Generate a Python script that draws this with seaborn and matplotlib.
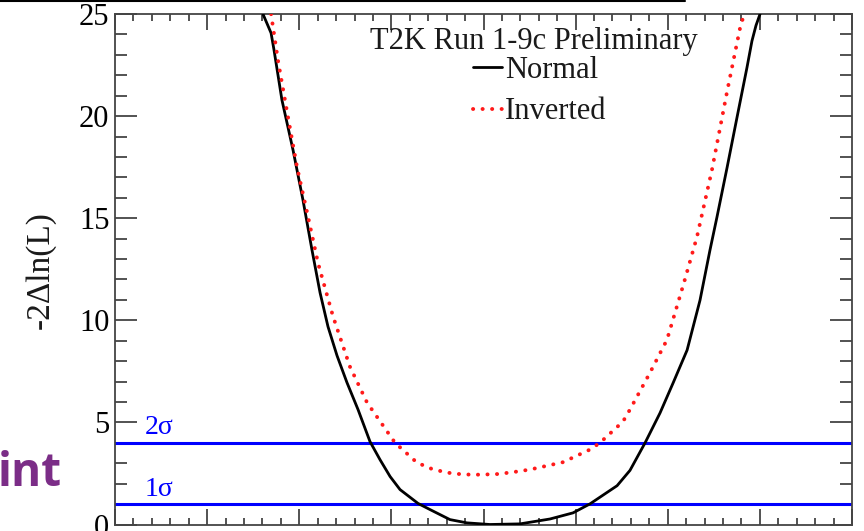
import numpy as np
import pandas as pd
import matplotlib
matplotlib.use("Agg")
import matplotlib.pyplot as plt
from matplotlib.lines import Line2D
from matplotlib.ticker import MultipleLocator
import seaborn as sns

# ---- data ----
normal_x = [0.3803, 0.3847, 0.3863, 0.3906, 0.3966, 0.4020, 0.4069, 0.4113, 0.4156, 0.4205,
            0.4259, 0.4319, 0.4384, 0.4438, 0.4493, 0.4547, 0.4645, 0.4710, 0.4818,
            0.4910, 0.5035, 0.5198, 0.5361, 0.5486, 0.5578, 0.5725, 0.5795, 0.5877,
            0.5958, 0.6029, 0.6105, 0.6175, 0.6229, 0.6267, 0.6322, 0.6376, 0.6430,
            0.6457, 0.6479, 0.6501]
normal_y = [25.0, 24.07, 23.24, 20.79, 18.35, 15.90, 13.45, 11.35, 9.69, 8.27,
            6.95, 5.63, 4.06, 3.18, 2.35, 1.71, 1.03, 0.73, 0.24,
            0.08, 0.0, 0.03, 0.27, 0.57, 1.01, 1.90, 2.65, 4.0,
            5.46, 6.93, 8.54, 10.98, 13.43, 15.05, 17.48, 19.94, 22.38,
            23.68, 24.44, 25.0]

inverted_x = [0.3847, 0.3885, 0.3934, 0.3988, 0.4047, 0.4102, 0.4183, 0.4275, 0.4368,
              0.4520, 0.4639, 0.4720, 0.4802, 0.4889, 0.4980, 0.5073, 0.5150, 0.5252,
              0.5431, 0.5578, 0.5632, 0.5757, 0.5795, 0.5904, 0.5996, 0.6088, 0.6159,
              0.6240, 0.6322, 0.6398, 0.6419]
inverted_y = [25.0, 22.7, 20.2, 17.5, 15.1, 12.8, 10.2, 7.73, 5.97,
              4.0, 3.03, 2.72, 2.54, 2.45, 2.44, 2.47, 2.55, 2.69,
              3.05, 3.67, 4.0, 5.04, 5.63, 7.44, 9.05, 11.84, 14.1,
              17.37, 21.2, 24.56, 25.0]

sigma_levels = [1.0, 4.0]
sigma_labels = ["1σ", "2σ"]
series_labels = ["Normal", "Inverted"]
title_text = "T2K Run 1-9c Preliminary"
ylabel_text = "-2Δln(L)"
slide_text = "int"

df_n = pd.DataFrame({"x": normal_x, "y": normal_y})
df_i = pd.DataFrame({"x": inverted_x, "y": inverted_y})

sns.set_theme(style="white")
plt.rcParams["font.family"] = ["Liberation Serif", "DejaVu Serif"]

fig = plt.figure(figsize=(8.64, 5.31), dpi=100)
ax = fig.add_axes([115 / 864, 1 - 524.5 / 531, 737 / 864, 510.5 / 531])

axis_col = "#444444"
for sp in ax.spines.values():
    sp.set_color(axis_col)
    sp.set_linewidth(1.3)

# sigma lines
for lvl, lab in zip(sigma_levels, sigma_labels):
    ax.axhline(lvl, color="#0000ff", lw=2.2, zorder=2)
    ax.text(0.3 + 0.016, lvl + 0.12, lab, color="#0000ff", fontsize=20,
            ha="left", va="bottom")

sns.lineplot(data=df_n, x="x", y="y", ax=ax, color="black", lw=2.0,
             sort=False, label=series_labels[0], zorder=3)
sns.lineplot(data=df_i, x="x", y="y", ax=ax, color="#ff1a1a", lw=2.8,
             sort=False, label=series_labels[1], zorder=3,
             linestyle=(0, (0.05, 2.4)), dash_capstyle="round")

ax.set_xlim(0.3, 0.7)
ax.set_ylim(0, 25)
ax.xaxis.set_major_locator(MultipleLocator(0.05))
ax.xaxis.set_minor_locator(MultipleLocator(0.01))
ax.yaxis.set_major_locator(MultipleLocator(5))
ax.yaxis.set_minor_locator(MultipleLocator(1))
ax.tick_params(axis="both", which="both", direction="in", colors=axis_col,
               top=True, right=True, bottom=True, left=True, width=1.3)
ax.tick_params(axis="y", which="major", length=16, labelsize=22, labelcolor="black", pad=4)
ax.tick_params(axis="y", which="minor", length=8.5)
ax.tick_params(axis="x", which="major", length=11.5, labelbottom=False)
ax.tick_params(axis="x", which="minor", length=5)
ax.set_xlabel("")
ax.set_ylabel("")

leg = ax.legend(loc="upper left", bbox_to_anchor=((473 - 115) / 737, (524.5 - 56) / 510.5),
                frameon=False, fontsize=22, handlelength=0.95, handletextpad=0.1,
                borderpad=0, borderaxespad=0, labelspacing=0.4)
for t in leg.get_texts():
    t.set_color("#1a1a1a")

ax.text((370 - 115) / 737, (524.5 - 41) / 510.5, title_text, transform=ax.transAxes,
        fontsize=22, ha="left", va="center", color="#1a1a1a")

fig.text(40 / 864, 1 - 270 / 531, ylabel_text, rotation=90, fontsize=24,
         ha="center", va="center", color="#1a1a1a")

fig.text(62 / 864, 1 - 474 / 531, slide_text, fontsize=33, fontweight="bold",
         family=["Open Sans", "DejaVu Sans"], color="#7b2d87", ha="right", va="center")

fig.add_artist(Line2D([0, 685 / 864], [1 - 0.8 / 531, 1 - 0.8 / 531],
                      transform=fig.transFigure, color="black", lw=1.5))

fig.savefig("out.png", dpi=100)
